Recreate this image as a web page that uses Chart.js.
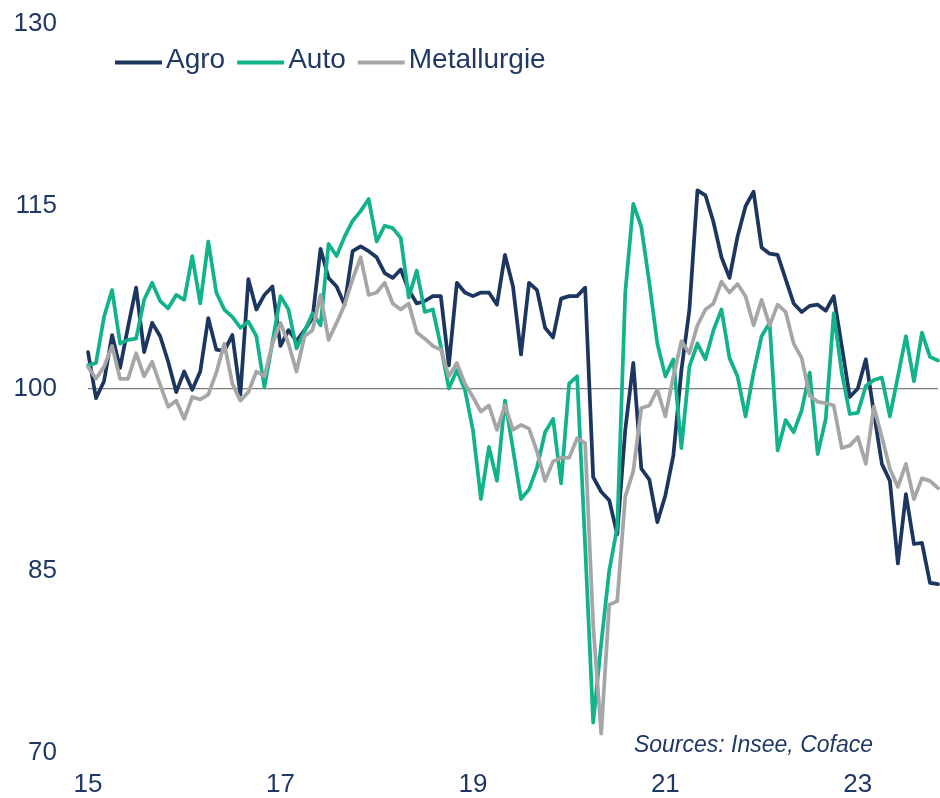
<!DOCTYPE html>
<html lang="fr">
<head>
<meta charset="utf-8">
<title>Agro, Auto, Metallurgie</title>
<script src="https://cdn.jsdelivr.net/npm/chart.js@4.4.1/dist/chart.umd.min.js"></script>
<style>
    html, body { margin: 0; padding: 0; background: #ffffff; }
    #wrap { width: 940px; height: 798px; position: relative; }
</style>
</head>
<body>
<div id="wrap"><canvas id="indexChart"></canvas></div>
<script>
// monthly series, Jan 2015 -> Nov 2023
const startYear = 2015;
const monthCount = 107;
const yearTickLabels = ['15', '17', '19', '21', '23'];
const yTicks = [70, 85, 100, 115, 130];

const agro = [
    103.0, 99.2, 100.6, 104.4, 101.7, 105.1, 108.3, 103.0, 105.4, 104.3, 102.2, 99.7,
    101.4, 99.9, 101.4, 105.8, 103.2, 103.1, 104.4, 99.5, 109.0, 106.5, 107.7, 108.4,
    103.5, 104.8, 103.9, 104.8, 105.8, 111.5, 109.1, 108.4, 106.9, 111.3, 111.7, 111.3,
    110.8, 109.5, 109.1, 109.8, 108.1, 107.0, 107.2, 107.6, 107.6, 101.9, 108.7, 107.9,
    107.6, 107.9, 107.9, 106.9, 111.0, 108.4, 102.8, 108.7, 108.1, 105.0, 104.2, 107.4,
    107.6, 107.6, 108.3, 92.7, 91.5, 90.8, 88.0, 96.6, 102.1, 93.4, 92.5, 89.0,
    91.2, 94.5, 101.5, 106.5, 116.3, 115.9, 113.7, 110.8, 109.1, 112.5, 115.0, 116.2,
    111.6, 111.1, 111.0, 109.0, 107.0, 106.3, 106.8, 106.9, 106.4, 107.6, 103.5, 99.3,
    100.0, 102.4, 98.0, 93.8, 92.4, 85.6, 91.3, 87.2, 87.3, 84.0, 83.9
];
const auto = [
    101.9, 102.1, 105.9, 108.1, 103.7, 104.0, 104.1, 107.3, 108.7, 107.2, 106.6, 107.7,
    107.3, 110.9, 107.0, 112.1, 107.9, 106.5, 105.9, 105.0, 105.5, 104.3, 100.1, 103.8,
    107.6, 106.5, 103.3, 104.7, 106.2, 105.2, 111.9, 110.9, 112.5, 113.8, 114.6, 115.6,
    112.1, 113.4, 113.2, 112.4, 107.5, 109.7, 106.3, 106.5, 103.5, 100.0, 101.5, 99.9,
    96.6, 90.9, 95.2, 92.4, 99.0, 95.0, 90.9, 91.7, 93.5, 96.4, 97.5, 92.2,
    100.4, 101.0, 87.0, 72.5, 79.0, 85.0, 88.6, 107.9, 115.2, 113.3, 108.7, 103.7,
    101.0, 102.4, 95.1, 101.8, 103.7, 102.4, 104.8, 106.5, 102.5, 101.0, 97.7, 101.3,
    104.3, 105.4, 94.9, 97.4, 96.4, 98.2, 101.3, 94.6, 97.5, 106.2, 101.3, 97.9,
    98.0, 100.2, 100.7, 100.9, 97.7, 101.0, 104.3, 100.6, 104.6, 102.6, 102.3
];
const metallurgie = [
    101.8, 100.8, 101.8, 103.5, 100.8, 100.8, 102.9, 101.0, 102.2, 100.3, 98.5, 99.0,
    97.5, 99.3, 99.1, 99.5, 101.3, 103.7, 100.4, 99.0, 99.7, 101.4, 101.0, 103.7,
    105.4, 103.7, 101.4, 104.3, 104.8, 107.7, 104.0, 105.4, 106.9, 109.0, 110.8, 107.7,
    107.9, 108.7, 107.0, 106.5, 107.0, 104.6, 104.1, 103.5, 103.2, 101.0, 102.1, 100.4,
    99.3, 98.1, 98.6, 96.6, 98.6, 96.6, 97.0, 96.7, 94.8, 92.4, 94.0, 94.3,
    94.3, 95.9, 95.5, 80.5, 71.6, 82.2, 82.5, 91.1, 93.2, 98.4, 98.6, 99.9,
    97.7, 101.0, 103.9, 102.9, 105.2, 106.5, 107.0, 108.8, 107.9, 108.6, 107.6, 105.2,
    107.3, 105.2, 106.9, 106.3, 103.7, 102.5, 99.4, 98.9, 98.8, 98.6, 95.1, 95.3,
    96.0, 93.8, 98.5, 96.0, 93.4, 91.9, 93.8, 90.9, 92.6, 92.4, 91.8
];

const months = [];
for (let i = 0; i < monthCount; i++) {
    const y = startYear + Math.floor(i / 12);
    const m = (i % 12) + 1;
    months.push(y + '-' + String(m).padStart(2, '0'));
}

const textColor = '#1f3864';
const fontFamily = '"Liberation Sans", Arial, Helvetica, sans-serif';

function buildDataset(label, data, color, order) {
    return {
        label: label,
        data: data,
        borderColor: color,
        backgroundColor: color,
        borderWidth: 3.75,
        borderJoinStyle: 'round',
        borderCapStyle: 'round',
        pointRadius: 0,
        pointHoverRadius: 0,
        tension: 0,
        fill: false,
        order: order
    };
}

// legend inside the plot + source note
const overlayPlugin = {
    id: 'overlay',
    afterDraw(chart) {
        const ctx = chart.ctx;
        ctx.save();
        ctx.font = '28px ' + fontFamily;
        ctx.textBaseline = 'middle';
        ctx.textAlign = 'left';
        let x = 115;
        const lineY = 62.5;
        chart.data.datasets.forEach(function (ds) {
            ctx.strokeStyle = ds.borderColor;
            ctx.lineWidth = 4;
            ctx.lineCap = 'butt';
            ctx.beginPath();
            ctx.moveTo(x, lineY);
            ctx.lineTo(x + 47, lineY);
            ctx.stroke();
            x += 51;
            ctx.fillStyle = textColor;
            ctx.fillText(ds.label, x, lineY - 2);
            x += ctx.measureText(ds.label).width + 12;
        });

        ctx.font = 'italic 23px ' + fontFamily;
        ctx.textAlign = 'right';
        ctx.textBaseline = 'alphabetic';
        ctx.fillStyle = textColor;
        ctx.fillText('Sources: Insee, Coface', 873, 751.5);
        ctx.restore();
    }
};

const ctx = document.getElementById('indexChart').getContext('2d');
new Chart(ctx, {
    type: 'line',
    data: {
        labels: months,
        datasets: [
            buildDataset('Agro', agro, '#1c3660', 2),
            buildDataset('Auto', auto, '#12b38b', 1),
            buildDataset('Metallurgie', metallurgie, '#a6a6a6', 0)
        ]
    },
    options: {
        responsive: true,
        maintainAspectRatio: false,
        animation: false,
        layout: {
            padding: { top: 24, right: 2, left: 0, bottom: 0 }
        },
        plugins: {
            legend: { display: false },
            tooltip: { enabled: false }
        },
        scales: {
            x: {
                type: 'category',
                offset: false,
                grid: { display: false, drawTicks: false },
                border: { display: false },
                ticks: {
                    autoSkip: false,
                    maxRotation: 0,
                    minRotation: 0,
                    padding: 16,
                    color: textColor,
                    font: { family: fontFamily, size: 26 },
                    callback: function (value, index) {
                        return index % 24 === 0 ? yearTickLabels[index / 24] : '';
                    }
                },
                afterFit: function (scale) {
                    scale.height = 45;
                    scale.paddingLeft = 0;
                    scale.paddingRight = 0;
                }
            },
            y: {
                min: 70,
                max: 130,
                grid: {
                    drawTicks: false,
                    lineWidth: 1.25,
                    color: function (c) {
                        return c.tick && c.tick.value === 100 ? '#7f7f7f' : 'rgba(0,0,0,0)';
                    }
                },
                border: { display: false },
                afterBuildTicks: function (scale) {
                    scale.ticks = yTicks.map(function (v) { return { value: v }; });
                },
                ticks: {
                    padding: 31,
                    color: textColor,
                    font: { family: fontFamily, size: 26 }
                },
                afterFit: function (scale) {
                    scale.width = 88;
                    scale.paddingTop = 0;
                    scale.paddingBottom = 0;
                }
            }
        }
    },
    plugins: [overlayPlugin]
});
</script>
</body>
</html>
